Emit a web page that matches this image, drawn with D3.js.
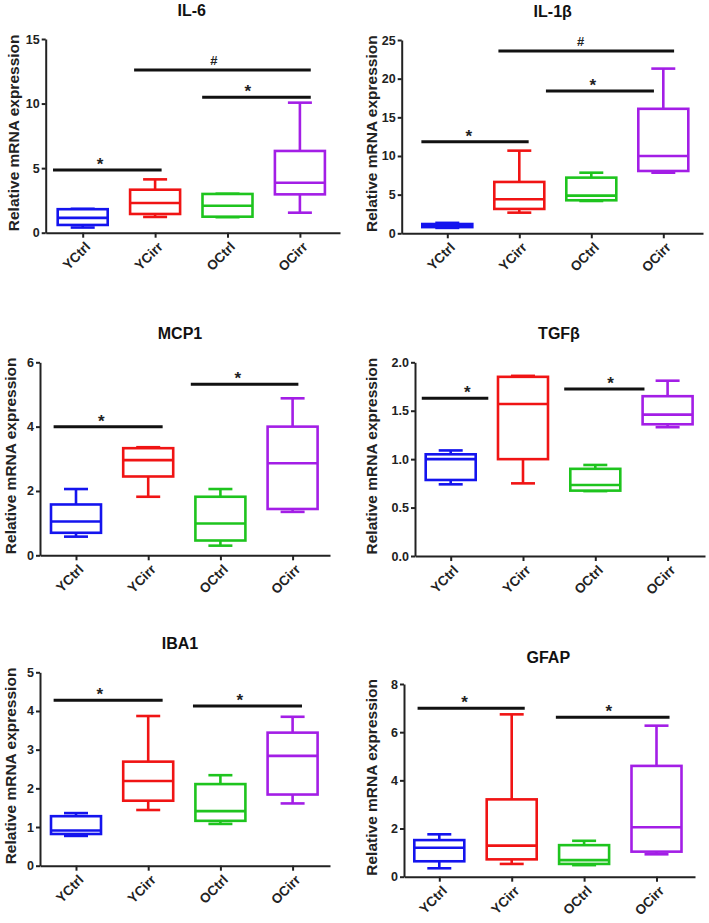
<!DOCTYPE html>
<html>
<head>
<meta charset="utf-8">
<script src="https://cdn.jsdelivr.net/npm/d3@7"></script>
<style>
  body { margin: 0; background: #fff; }
  svg { font-family: "Liberation Sans", Arial, sans-serif; }
</style>
</head>
<body>
<div class="chart"></div>
<script>
const categories = ['YCtrl', 'YCirr', 'OCtrl', 'OCirr'];
const colors = ['#1414ee', '#f01414', '#1ec41e', '#a31ee6'];

// each box: [min, q1, median, q3, max]
const il6 = [[0.4, 0.6, 1.15, 1.82, 1.85], [1.22, 1.45, 2.3, 3.33, 4.13], [1.2, 1.24, 2.09, 3.0, 3.02], [1.55, 2.97, 3.87, 6.33, 10.07]];
const il1b = [[0.7, 0.8, 1.0, 1.2, 1.35], [2.67, 3.15, 4.4, 6.64, 10.69], [4.18, 4.27, 4.87, 7.2, 7.84], [7.84, 8.06, 10.0, 16.1, 21.3]];
const mcp1 = [[0.58, 0.7, 1.05, 1.58, 2.06], [1.82, 2.45, 2.96, 3.33, 3.36], [0.3, 0.46, 0.99, 1.82, 2.06], [1.35, 1.44, 2.86, 4.0, 4.88]];
const tgfb = [[0.74, 0.785, 1.0, 1.05, 1.09], [0.75, 1.0, 1.57, 1.85, 1.86], [0.67, 0.675, 0.733, 0.9, 0.94], [1.33, 1.36, 1.46, 1.65, 1.81]];
const iba1 = [[0.77, 0.82, 0.91, 1.28, 1.36], [1.44, 1.68, 2.19, 2.69, 3.87], [1.08, 1.16, 1.41, 2.11, 2.34], [1.61, 1.84, 2.84, 3.44, 3.85]];
const gfap = [[0.35, 0.64, 1.2, 1.52, 1.76], [0.53, 0.72, 1.29, 3.21, 6.74], [0.48, 0.53, 0.69, 1.31, 1.49], [0.93, 1.04, 2.05, 4.6, 6.27]];

// significance bars: [from index, to index, y value, label, label position]
const il6Sig = [[-0.41, 1.09, 4.85, '*', 0.24], [0.71, 3.15, 12.6, '#', 1.81], [1.65, 3.15, 10.48, '*', 2.28]];
const il1bSig = [[-0.36, 1.13, 11.85, '*', 0.30], [0.71, 3.15, 23.58, '#', 1.85], [1.37, 2.87, 18.4, '*', 2.02]];
const mcp1Sig = [[-0.31, 1.2, 4.0, '*', 0.35], [1.59, 3.08, 5.32, '*', 2.24]];
const tgfbSig = [[-0.4, 0.52, 1.63, '*', 0.23], [1.57, 2.68, 1.725, '*', 2.21]];
const iba1Sig = [[-0.31, 1.2, 4.28, '*', 0.33], [1.62, 3.13, 4.13, '*', 2.27]];
const gfapSig = [[-0.30, 1.18, 6.99, '*', 0.35], [1.61, 3.18, 6.62, '*', 2.34]];

const il6Ticks = [0, 5, 10, 15];
const il1bTicks = [0, 5, 10, 15, 20, 25];
const mcp1Ticks = [0, 2, 4, 6];
const tgfbTicks = [0, 0.5, 1.0, 1.5, 2.0];
const iba1Ticks = [0, 1, 2, 3, 4, 5];
const gfapTicks = [0, 2, 4, 6, 8];

// layout of the six panels (pixels)
const panels = [
  {title: 'IL-6',  data: il6,  sig: il6Sig,  ticks: il6Ticks,  fmt: d3.format('d'),   left: 45.7, right: 340, top: 39,    bottom: 232.7, x0: 82.7,  step: 72.4, titleX: 191.7, titleY: 16,  labelX: 18.5},
  {title: 'IL-1β', data: il1b, sig: il1bSig, ticks: il1bTicks, fmt: d3.format('d'),   left: 401.7, right: 703, top: 40,   bottom: 233.3, x0: 447.3, step: 72,   titleX: 552.7, titleY: 17,  labelX: 377},
  {title: 'MCP1',  data: mcp1, sig: mcp1Sig, ticks: mcp1Ticks, fmt: d3.format('d'),   left: 40,   right: 330, top: 362.3, bottom: 555.3, x0: 76,    step: 72.2, titleX: 180,   titleY: 339, labelX: 15.5},
  {title: 'TGFβ',  data: tgfb, sig: tgfbSig, ticks: tgfbTicks, fmt: d3.format('.1f'), left: 415,  right: 705, top: 362.3, bottom: 556,   x0: 450.7, step: 72.3, titleX: 559,   titleY: 339, labelX: 377},
  {title: 'IBA1',  data: iba1, sig: iba1Sig, ticks: iba1Ticks, fmt: d3.format('d'),   left: 40,   right: 330, top: 672.3, bottom: 865.7, x0: 76,    step: 72.2, titleX: 180,   titleY: 649, labelX: 15.5},
  {title: 'GFAP',  data: gfap, sig: gfapSig, ticks: gfapTicks, fmt: d3.format('d'),   left: 404,  right: 695, top: 684,   bottom: 876.7, x0: 439.3, step: 72.4, titleX: 548.3, titleY: 663, labelX: 377}
];

const svg = d3.select('.chart')
              .append('svg')
              .attr('width', 709)
              .attr('height', 923);

const boxW = 50, capW = 24;

panels.forEach(p => {
    const g = svg.append('g');

    const x = d3.scaleLinear().domain([0, 3]).range([p.x0, p.x0 + 3 * p.step]);
    x.domain([x.invert(p.left), x.invert(p.right)]).range([p.left, p.right]);

    const y = d3.scaleLinear()
                .domain([0, d3.max(p.ticks)])
                .range([p.bottom, p.top]);

    // axes
    const yAxis = d3.axisLeft(y).tickValues(p.ticks).tickFormat(p.fmt)
                    .tickSize(4).tickSizeOuter(0).tickPadding(2);
    const xAxis = d3.axisBottom(x).tickValues([0, 1, 2, 3]).tickFormat(i => categories[i])
                    .tickSize(5).tickSizeOuter(0);

    const ya = g.append('g')
       .attr('transform', `translate(${p.left},0)`)
       .call(yAxis);
    ya.selectAll('text').attr('font-size', 12.5).attr('font-weight', 'bold').attr('fill', '#222');

    const xa = g.append('g')
       .attr('transform', `translate(0,${p.bottom})`)
       .call(xAxis);
    xa.selectAll('text')
      .attr('font-size', 13.5).attr('font-weight', 'bold').attr('fill', '#222')
      .attr('text-anchor', 'end')
      .attr('y', 0).attr('dy', 0)
      .attr('transform', 'translate(8,15) rotate(-45)');

    g.selectAll('.domain, .tick line').attr('stroke', '#222').attr('stroke-width', 2);

    // titles
    g.append('text')
     .attr('x', p.titleX)
     .attr('y', p.titleY)
     .attr('text-anchor', 'middle')
     .attr('font-size', 16)
     .attr('font-weight', 'bold')
     .attr('fill', '#111')
     .text(p.title);

    g.append('text')
     .attr('transform', `translate(${p.labelX},${(p.top + p.bottom) / 2 - 3}) rotate(-90)`)
     .attr('text-anchor', 'middle')
     .attr('font-size', 15.5)
     .attr('font-weight', 'bold')
     .attr('fill', '#222')
     .text('Relative mRNA expression');

    // boxes
    const boxes = g.selectAll('.box')
                   .data(p.data)
                   .enter()
                   .append('g')
                   .attr('stroke', (d, i) => colors[i])
                   .attr('stroke-width', 2.6)
                   .attr('fill', 'none');

    boxes.append('line')
         .attr('x1', (d, i) => x(i)).attr('x2', (d, i) => x(i))
         .attr('y1', d => y(d[0])).attr('y2', d => y(d[1]));
    boxes.append('line')
         .attr('x1', (d, i) => x(i)).attr('x2', (d, i) => x(i))
         .attr('y1', d => y(d[3])).attr('y2', d => y(d[4]));
    boxes.append('line')
         .attr('x1', (d, i) => x(i) - capW / 2).attr('x2', (d, i) => x(i) + capW / 2)
         .attr('y1', d => y(d[0])).attr('y2', d => y(d[0]));
    boxes.append('line')
         .attr('x1', (d, i) => x(i) - capW / 2).attr('x2', (d, i) => x(i) + capW / 2)
         .attr('y1', d => y(d[4])).attr('y2', d => y(d[4]));
    boxes.append('rect')
         .attr('x', (d, i) => x(i) - boxW / 2)
         .attr('width', boxW)
         .attr('y', d => y(d[3]))
         .attr('height', d => y(d[1]) - y(d[3]))
         .attr('fill', '#fff');
    boxes.append('line')
         .attr('x1', (d, i) => x(i) - boxW / 2).attr('x2', (d, i) => x(i) + boxW / 2)
         .attr('y1', d => y(d[2])).attr('y2', d => y(d[2]));

    // significance bars
    g.selectAll('.sig')
     .data(p.sig)
     .enter()
     .append('line')
     .attr('x1', d => x(d[0])).attr('x2', d => x(d[1]))
     .attr('y1', d => y(d[2])).attr('y2', d => y(d[2]))
     .attr('stroke', '#111')
     .attr('stroke-width', 3);

    g.selectAll('.sigLabel')
     .data(p.sig)
     .enter()
     .append('text')
     .attr('x', d => x(d[4]))
     .attr('y', d => y(d[2]) - (d[3] === '#' ? 5 : 0))
     .attr('text-anchor', 'middle')
     .attr('font-size', d => d[3] === '#' ? 13 : 17)
     .attr('font-weight', 'bold')
     .attr('fill', '#222')
     .text(d => d[3]);
});
</script>
</body>
</html>
